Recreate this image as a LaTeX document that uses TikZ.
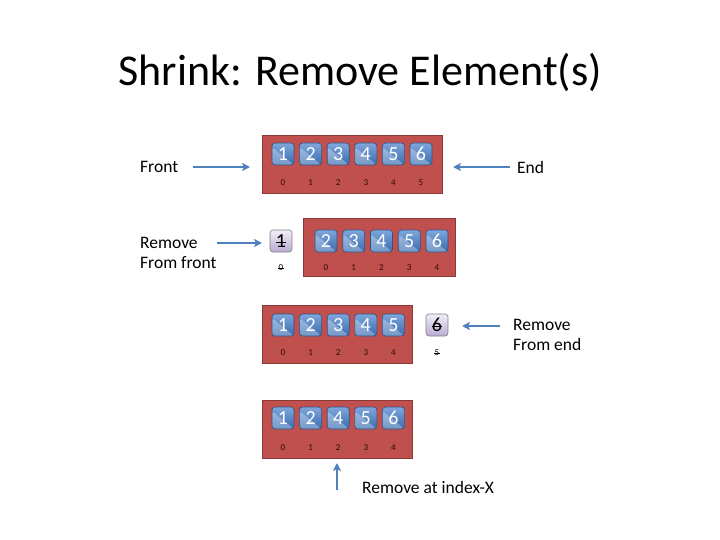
\documentclass[tikz,border=0pt]{standalone}
\usepackage{fontspec}
\setmainfont{Carlito}
\usetikzlibrary{arrows.meta}
\definecolor{redfill}{HTML}{C0504D}
\definecolor{redline}{HTML}{8C3836}
\definecolor{bluetop}{HTML}{7EA6DC}
\definecolor{bluebot}{HTML}{3A6CAE}
\definecolor{blueline}{HTML}{2F5283}
\definecolor{arrowblue}{HTML}{4F81BD}
\definecolor{lavtop}{HTML}{F2EEF8}
\definecolor{lavbot}{HTML}{B9ABD3}
\definecolor{idxcol}{HTML}{2A0A0A}
\tikzset{
  arr/.style={draw=redline, fill=redfill, line width=0.8pt, minimum height=58pt, inner sep=0pt},
  elem/.style={rounded corners=3pt, minimum width=22pt, minimum height=22pt, inner sep=0pt,
    draw=blueline, line width=0.6pt, top color=bluetop, bottom color=bluebot, text=white,
    font=\fontsize{20}{20}\selectfont,
    path picture={\fill[white,opacity=0.3] (path picture bounding box.south west) -- ([yshift=-4pt]path picture bounding box.north west) -- (path picture bounding box.south east) -- cycle;}},
  gone/.style={rounded corners=3pt, minimum width=22pt, minimum height=22pt, inner sep=0pt,
    draw=gray, line width=0.6pt, top color=lavtop, bottom color=lavbot, text=black,
    font=\fontsize{20}{20}\selectfont},
  idx/.style={font=\fontsize{9}{9}\selectfont, text=idxcol, inner sep=0pt},
  lbl/.style={font=\fontsize{17.5}{20}\selectfont, anchor=west, align=left, inner sep=0pt},
  barrow/.style={draw=arrowblue, line width=1.5pt, -{Stealth[length=8pt,width=8pt,inset=2pt]}},
  strike/.style={draw=black, line width=0.5pt}
}
\begin{document}
\begin{tikzpicture}[x=1pt,y=-1pt]
\useasboundingbox (0,0) rectangle (720,540);
\node[font=\fontsize{44}{44}\selectfont] (title) at (360,72) {Shrink: Remove Element(s)};

% Row 1
\node[arr, minimum width=180pt] (r1) at (352,164) {};
\foreach \v [count=\i from 0] in {1,2,3,4,5,6}{
  \node[elem] (a\i) at ({283+27.6*\i},154) {\v};
  \node[idx] (ai\i) at ({283+27.6*\i},183) {\i};
}
\node[lbl] (front) at (140,167) {Front};
\node[lbl] (end) at (517,167) {End};
\coordinate (fronttip) at (250,167);
\coordinate (fronttail) at (193,167);
\coordinate (endtip) at (453,167);
\coordinate (endtail) at (510,167);
\draw[barrow] (fronttail) -- (fronttip);
\draw[barrow] (endtail) -- (endtip);

% Row 2
\node[arr, minimum width=152pt] (r2) at (379,247) {};
\foreach \v [count=\i from 0] in {2,3,4,5,6}{
  \node[elem] (b\i) at ({326+27.75*\i},241) {\v};
  \node[idx] (bi\i) at ({326+27.75*\i},268) {\i};
}
\node[gone] (g1) at (281,241) {1};
\draw[strike] ([xshift=-5pt,yshift=-1pt]g1.center) -- ([xshift=5pt,yshift=-1pt]g1.center);
\node[idx, text=black] (gi1) at (281,268) {0};
\draw[strike, line width=0.3pt] ([xshift=-3pt]gi1.center) -- ([xshift=3pt]gi1.center);
\node[lbl] (remf) at (140,253) {Remove\\From front};
\coordinate (rftail) at (217,243);
\coordinate (rftip) at (262,243);
\draw[barrow] (rftail) -- (rftip);

% Row 3
\node[arr, minimum width=150pt] (r3) at (337,334.5) {};
\foreach \v [count=\i from 0] in {1,2,3,4,5}{
  \node[elem] (c\i) at ({283+27.6*\i},325) {\v};
  \node[idx] (ci\i) at ({283+27.6*\i},353) {\i};
}
\node[gone] (g6) at (437,325) {6};
\draw[strike] ([xshift=-5pt,yshift=-1pt]g6.center) -- ([xshift=5pt,yshift=-1pt]g6.center);
\node[idx, text=black] (gi5) at (437,353) {5};
\draw[strike, line width=0.3pt] ([xshift=-3pt]gi5.center) -- ([xshift=3pt]gi5.center);
\node[lbl] (reme) at (513,335) {Remove\\From end};
\coordinate (retail) at (500,326);
\coordinate (retip) at (462,326);
\draw[barrow] (retail) -- (retip);

% Row 4
\node[arr, minimum width=150pt] (r4) at (337,429) {};
\foreach \v [count=\i from 0] in {1,2,4,5,6}{
  \node[elem] (d\i) at ({283+27.6*\i},418) {\v};
  \node[idx] (di\i) at ({283+27.6*\i},448) {\i};
}
\node[lbl] (remx) at (362,487) {Remove at index-X};
\coordinate (rxtail) at (337,490);
\coordinate (rxtip) at (337,463);
\draw[barrow] (rxtail) -- (rxtip);
\end{tikzpicture}
\end{document}
